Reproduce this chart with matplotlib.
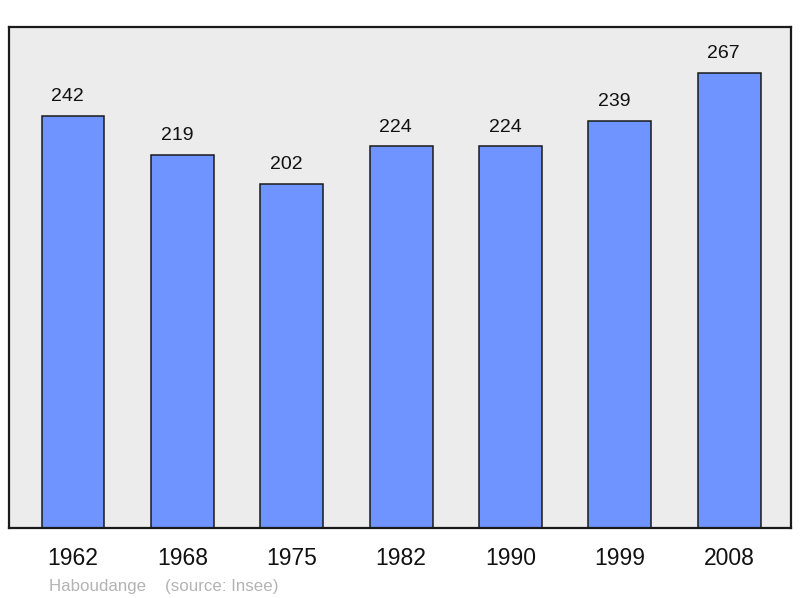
import matplotlib.pyplot as plt

years = ['1962', '1968', '1975', '1982', '1990', '1999', '2008']
population = [242, 219, 202, 224, 224, 239, 267]

plt.rcParams['font.family'] = ['Liberation Sans', 'DejaVu Sans']

fig = plt.figure(figsize=(8, 5.98), dpi=100)
ax = fig.add_axes([9 / 800, 70 / 598, 782 / 800, 501 / 598])
ax.set_facecolor('#ececec')

x = range(len(years))
ax.bar(x, population, width=0.575, color='#7094ff', edgecolor='#1a1a1a', linewidth=1.1)

# value labels, a bit left of bar centre like the original
for i, v in zip(x, population):
    ax.annotate(str(v), (i, v), xytext=(-4, 13.8), textcoords='offset points',
                ha='center', va='center', fontsize=14, color='#111111')

ax.set_xlim(-0.585, 6.565)
ax.set_ylim(0, 294)
ax.set_xticks(list(x))
ax.set_xticklabels(years, fontsize=16.5, color='#111111')
ax.tick_params(axis='x', length=0, pad=14)
ax.set_yticks([])
for s in ax.spines.values():
    s.set_linewidth(1.6)
    s.set_color('#1a1a1a')

fig.text(49 / 800, 1 - 586 / 598, 'Haboudange    (source: Insee)',
         fontsize=12.2, color='#b4b4b4', va='center', ha='left')

fig.savefig('out.png', dpi=100)
